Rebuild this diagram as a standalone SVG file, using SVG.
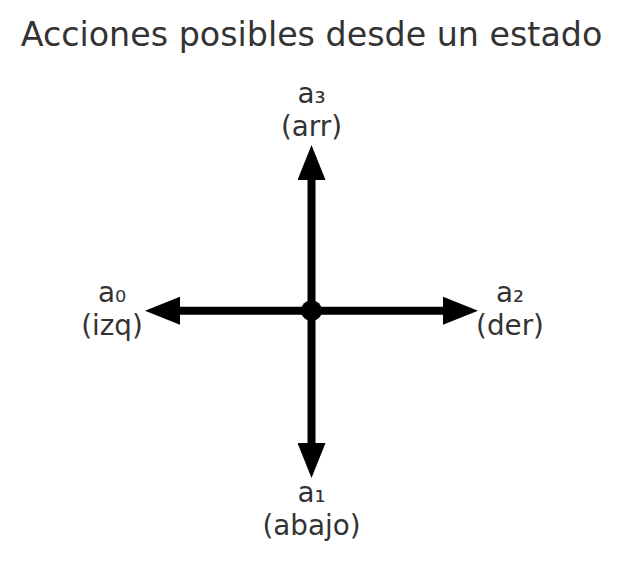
<svg xmlns="http://www.w3.org/2000/svg" width="623" height="580" viewBox="0 0 623 580">
  <style>
    text { font-family: "DejaVu Sans", "Noto Sans", sans-serif; fill: #333333; text-anchor: middle; }
    .title { font-size: 33.3px; }
    .lbl { font-size: 27.8px; }
    .shaft { stroke: #000000; stroke-width: 8; fill: none; marker-end: url(#head); }
  </style>
  <defs>
    <marker id="head" markerUnits="userSpaceOnUse" viewBox="0 -14 35 28" markerWidth="35" markerHeight="28" refX="2" refY="0" orient="auto">
      <path d="M0,-14 L35,0 L0,14 Z" fill="#000000"/>
    </marker>
  </defs>
  <rect width="623" height="580" fill="#ffffff"/>
  <text class="title" x="311.5" y="46">Acciones posibles desde un estado</text>
  <g id="connectors">
    <line class="shaft" x1="311.5" y1="310.7" x2="311.5" y2="178"/>
    <line class="shaft" x1="311.5" y1="310.7" x2="311.5" y2="445"/>
    <line class="shaft" x1="311.5" y1="310.7" x2="178" y2="310.7"/>
    <line class="shaft" x1="311.5" y1="310.7" x2="445" y2="310.7"/>
  </g>
  <g id="state">
    <circle cx="311.5" cy="310.7" r="10.5" fill="#000000"/>
  </g>
  <g id="a3">
    <text class="lbl" x="311.5" y="103">a₃</text>
    <text class="lbl" x="311.5" y="136">(arr)</text>
  </g>
  <g id="a1">
    <text class="lbl" x="311.5" y="502">a₁</text>
    <text class="lbl" x="311.5" y="535">(abajo)</text>
  </g>
  <g id="a0">
    <text class="lbl" x="112" y="302">a₀</text>
    <text class="lbl" x="112" y="335">(izq)</text>
  </g>
  <g id="a2">
    <text class="lbl" x="510" y="302">a₂</text>
    <text class="lbl" x="510" y="335">(der)</text>
  </g>
</svg>
